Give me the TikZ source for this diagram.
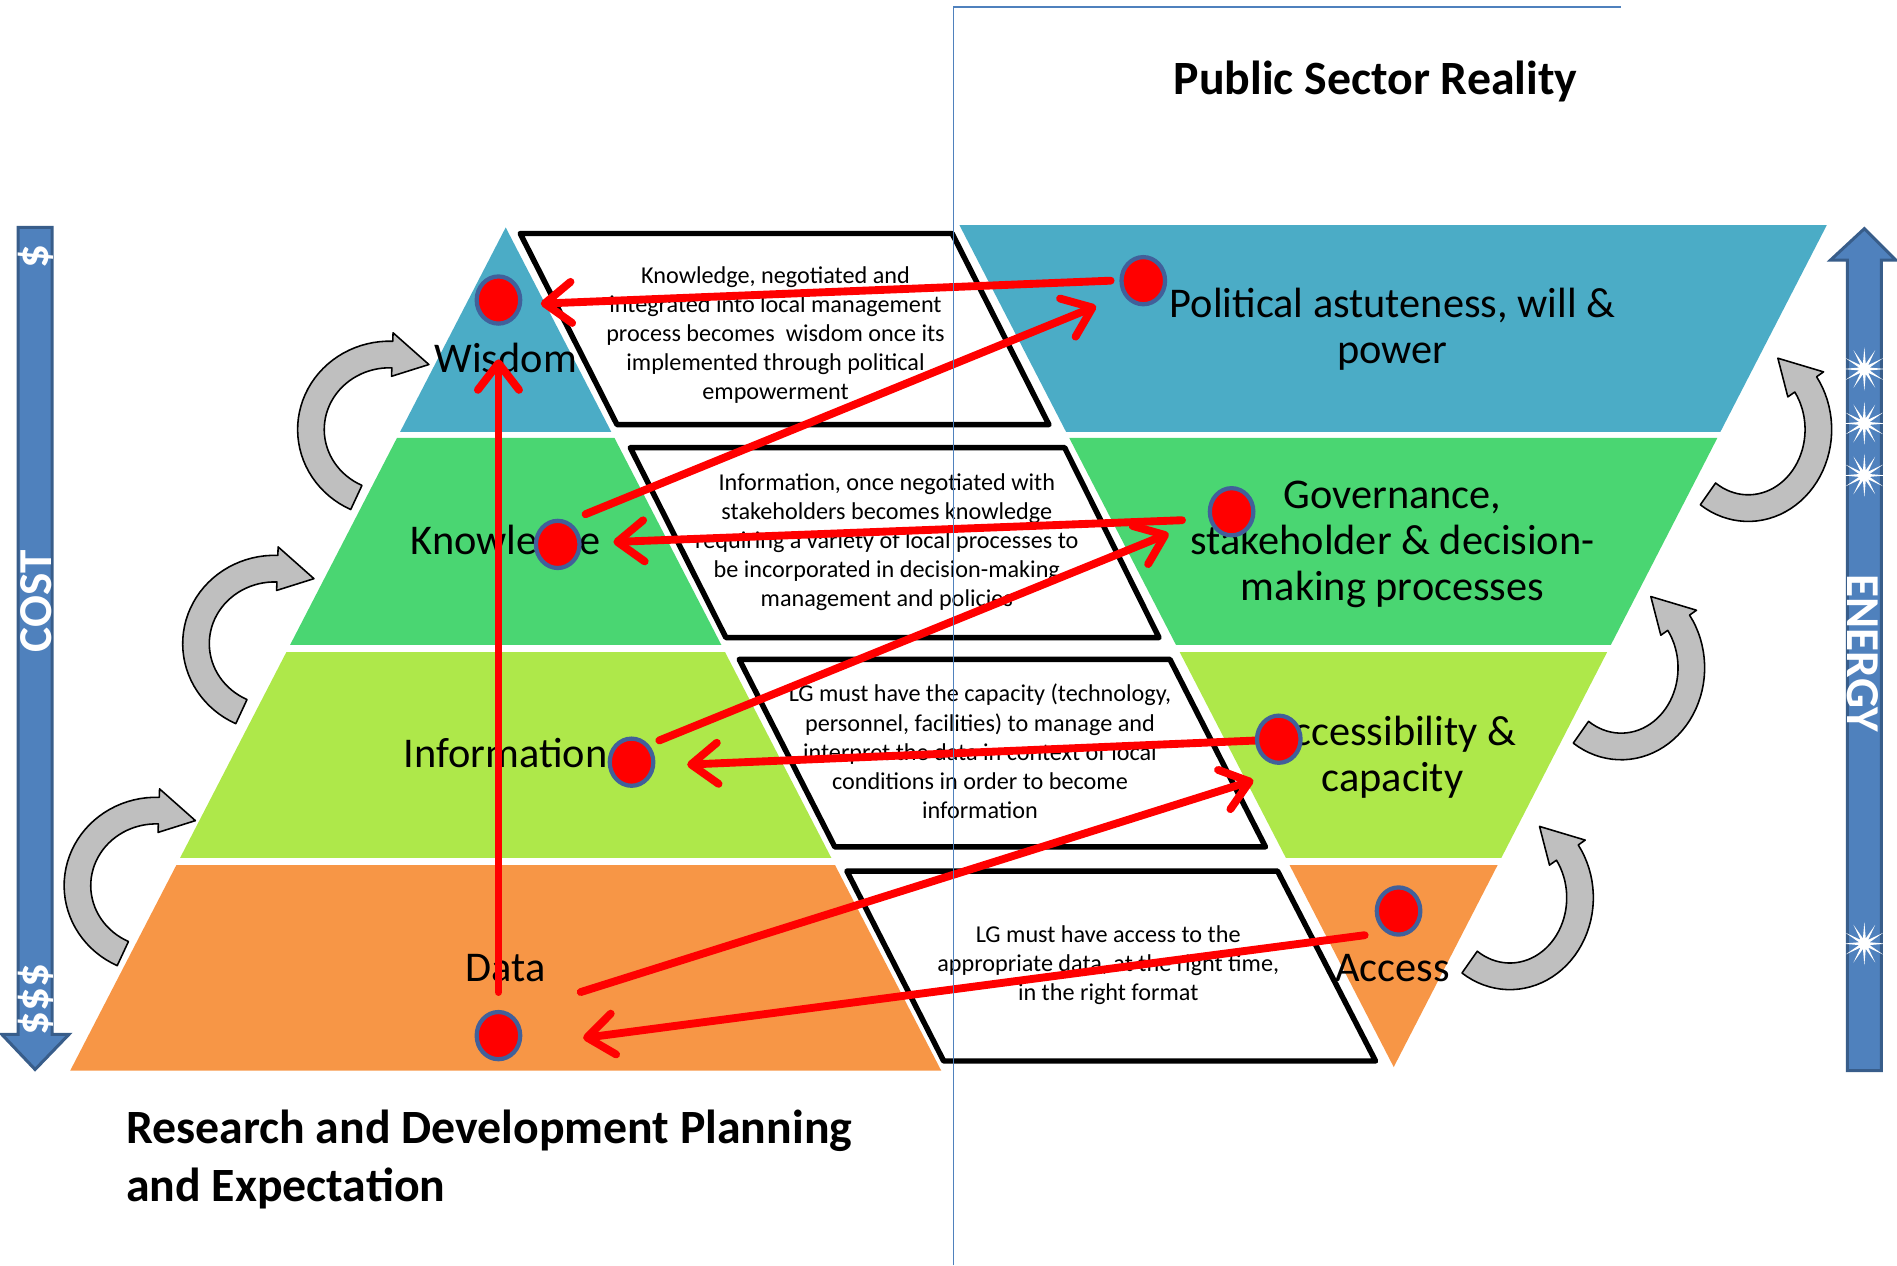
\documentclass[tikz,border=0pt]{standalone}
\usepackage{fontspec}
\setmainfont{Carlito}
\usetikzlibrary{arrows.meta,shapes.geometric}
\definecolor{cblue}{HTML}{4BACC6}
\definecolor{cgreen}{HTML}{4AD672}
\definecolor{clime}{HTML}{AEE84A}
\definecolor{corange}{HTML}{F79646}
\definecolor{abl}{HTML}{4F81BD}
\definecolor{abd}{HTML}{385D8A}
\definecolor{dotb}{HTML}{41609A}
\newcommand{\grayarrow}[7]{%
 \filldraw[garrow]
  plot[domain=#5:#6,samples=40] ({#1+(#3+11)*cos(\x)},{#2+(#4+11)*sin(\x)})
  -- ({#1+(#3+18)*cos(#6)},{#2+(#4+18)*sin(#6)})
  -- ({#1+#3*cos((#6)+(#7))},{#2+#4*sin((#6)+(#7))})
  -- ({#1+(#3-18)*cos(#6)},{#2+(#4-18)*sin(#6)})
  -- plot[domain=#6:#5,samples=40] ({#1+(#3-11)*cos(\x)},{#2+(#4-11)*sin(\x)})
  -- cycle;}
\begin{document}
\begin{tikzpicture}[x=1pt,y=-1pt,
  boxsty/.style={fill=white,draw=black,line width=4.5pt,line join=round},
  boxtxt/.style={align=center,font=\fontsize{20}{24}\selectfont,inner sep=0pt},
  lbl/.style={font=\fontsize{35}{38}\selectfont,inner sep=0pt},
  mlbl/.style={align=center,font=\fontsize{35}{38}\selectfont,inner sep=0pt},
  ttl/.style={font=\fontsize{39.5}{48}\selectfont\bfseries,inner sep=0pt},
  bartxt/.style={font=\fontsize{39}{40}\selectfont\bfseries,text=white,inner sep=0pt},
  garrow/.style={fill=gray!50,draw=black,line width=1.3pt,line join=round},
  bigarrow/.style={fill=abl,draw=abd,line width=2.5pt,line join=miter},
  redarr/.style={draw=red,line width=6.5pt,line cap=round,-{Straight Barb[length=22pt,width=34pt,round]}},
  dot/.style={ellipse,fill=red,draw=dotb,line width=3.5pt,minimum width=36pt,minimum height=39pt,inner sep=0pt},
  starsty/.style={star,star points=12,star point ratio=4,minimum size=36pt,fill=white,inner sep=0pt}]
\useasboundingbox (0,0) rectangle (1568,1046);
% left pyramid
\fill[cblue] (418,188) -- (505.3,357) -- (330.7,357) -- cycle;
\fill[cgreen] (328.1,362) -- (507.9,362) -- (596.2,533) -- (239.8,533) -- cycle;
\fill[clime] (236.7,539) -- (599.3,539) -- (687.1,709) -- (148.9,709) -- cycle;
\fill[corange] (145.8,715) -- (690.2,715) -- (778,885) -- (58,885) -- cycle;
% right inverted pyramid
\fill[cblue] (793,186) -- (1510,186) -- (1422,357) -- (881.2,357) -- cycle;
\fill[cgreen] (883.8,362) -- (1419.5,362) -- (1331.5,533) -- (972,533) -- cycle;
\fill[clime] (975.1,539) -- (1328.4,539) -- (1241,709) -- (1062.8,709) -- cycle;
\fill[corange] (1065.9,715) -- (1237.9,715) -- (1152,882) -- cycle;
% middle boxes
\draw[boxsty] (430,193) -- (787,193) -- (867,351) -- (510,351) -- cycle;
\draw[boxsty] (521,370) -- (880,370) -- (958,527) -- (600,527) -- cycle;
\draw[boxsty] (611,545) -- (967,545) -- (1046,700) -- (690,700) -- cycle;
\draw[boxsty] (700,720) -- (1056,720) -- (1137,877) -- (780,877) -- cycle;
\node[boxtxt] (t1) at (641,277) {Knowledge, negotiated and\\integrated into local management\\process becomes \ wisdom once its\\implemented through political\\empowerment};
\node[boxtxt] (t2) at (733,448) {Information, once negotiated with\\stakeholders becomes knowledge\\requiring a variety of local processes to\\be incorporated in decision-making\\management and policies};
\node[boxtxt] (t3) at (810,621) {LG must have the capacity (technology,\\personnel, facilities) to manage and\\interpret the data in context of local\\conditions in order to become\\information};
\node[boxtxt] (t4) at (916,798) {LG must have access to the\\appropriate data, at the right time,\\in the right format};
% labels
\node[lbl,anchor=base] (lwis) at (418,308) {Wisdom};
\node[lbl,anchor=base] (lknow) at (418,458) {Knowledge};
\node[lbl,anchor=base] (linfo) at (418,634) {Information};
\node[lbl,anchor=base] (ldata) at (418,811) {Data};
\node[mlbl] (lpol) at (1151,272) {Political astuteness, will \&\\power};
\node[mlbl] (lgov) at (1151,450) {Governance,\\stakeholder \& decision-\\making processes};
\node[mlbl] (lacc) at (1151,626) {Accessibility \&\\capacity};
\node[lbl,anchor=base] (lacs) at (1151,811) {Access};
% titles
\node[ttl,anchor=base] (title) at (1137,78) {Public Sector Reality};
\node[ttl,anchor=base west] (rd1) at (104,945) {Research and Development Planning};
\node[ttl,anchor=base west] (rd2) at (104,993) {and Expectation};
% side arrows
\draw[bigarrow] (15,188) -- (43,188) -- (43,855) -- (57,855) -- (29,884) -- (1.5,855) -- (15,855) -- cycle;
\draw[bigarrow] (1527,885) -- (1555,885) -- (1555,215) -- (1567,215) -- (1541,189) -- (1513,215) -- (1527,215) -- cycle;
\node[bartxt,rotate=90] (dol1) at (30,212) {\$};
\node[bartxt,rotate=90] (cost) at (30,497) {COST};
\node[bartxt,rotate=90] (dol3) at (30,826) {\$\$\$};
\node[bartxt,rotate=-90] (energy) at (1540,540) {ENERGY};
\node[starsty] (s1) at (1541,305) {};
\node[starsty] (s2) at (1541,350) {};
\node[starsty] (s3) at (1541,393) {};
\node[starsty] (s4) at (1541,780) {};
% curved gray arrows
\grayarrow{322}{355}{65}{62}{115}{272}{28}
\grayarrow{227}{532}{65}{62}{115}{272}{28}
\grayarrow{129}{732}{65}{62}{115}{272}{28}
\grayarrow{1445}{355}{58}{65}{125}{-35}{-30}
\grayarrow{1340}{552}{58}{65}{125}{-35}{-30}
\grayarrow{1248}{742}{58}{65}{125}{-35}{-30}
% red arrows
\coordinate (r1s) at (918,232); \coordinate (r1e) at (447,251);
\coordinate (r2s) at (484,425); \coordinate (r2e) at (906,253);
\coordinate (r3s) at (977,430); \coordinate (r3e) at (507,448);
\coordinate (r4s) at (545,612); \coordinate (r4e) at (966,441);
\coordinate (r5s) at (1040,612); \coordinate (r5e) at (568,632);
\coordinate (r6s) at (480,820); \coordinate (r6e) at (1036,645);
\coordinate (r7s) at (1128,773); \coordinate (r7e) at (482,858);
\coordinate (r8s) at (412,820); \coordinate (r8e) at (412,297);
\foreach \i in {1,...,8} {\draw[redarr] (r\i s) -- (r\i e);}
% dots
\node[dot] (dwis) at (412,248) {};
\node[dot] (dknow) at (461,450) {};
\node[dot] (dinfo) at (522,630) {};
\node[dot] (ddata) at (412,856) {};
\node[dot] (dpol) at (945,232) {};
\node[dot] (dgov) at (1018,423) {};
\node[dot] (dacc) at (1057,611) {};
\node[dot] (dacs) at (1156,753) {};
% divider
\draw[abl,line width=1.3pt] (788,1046) -- (788,6) -- (1340,6);
\end{tikzpicture}
\end{document}
